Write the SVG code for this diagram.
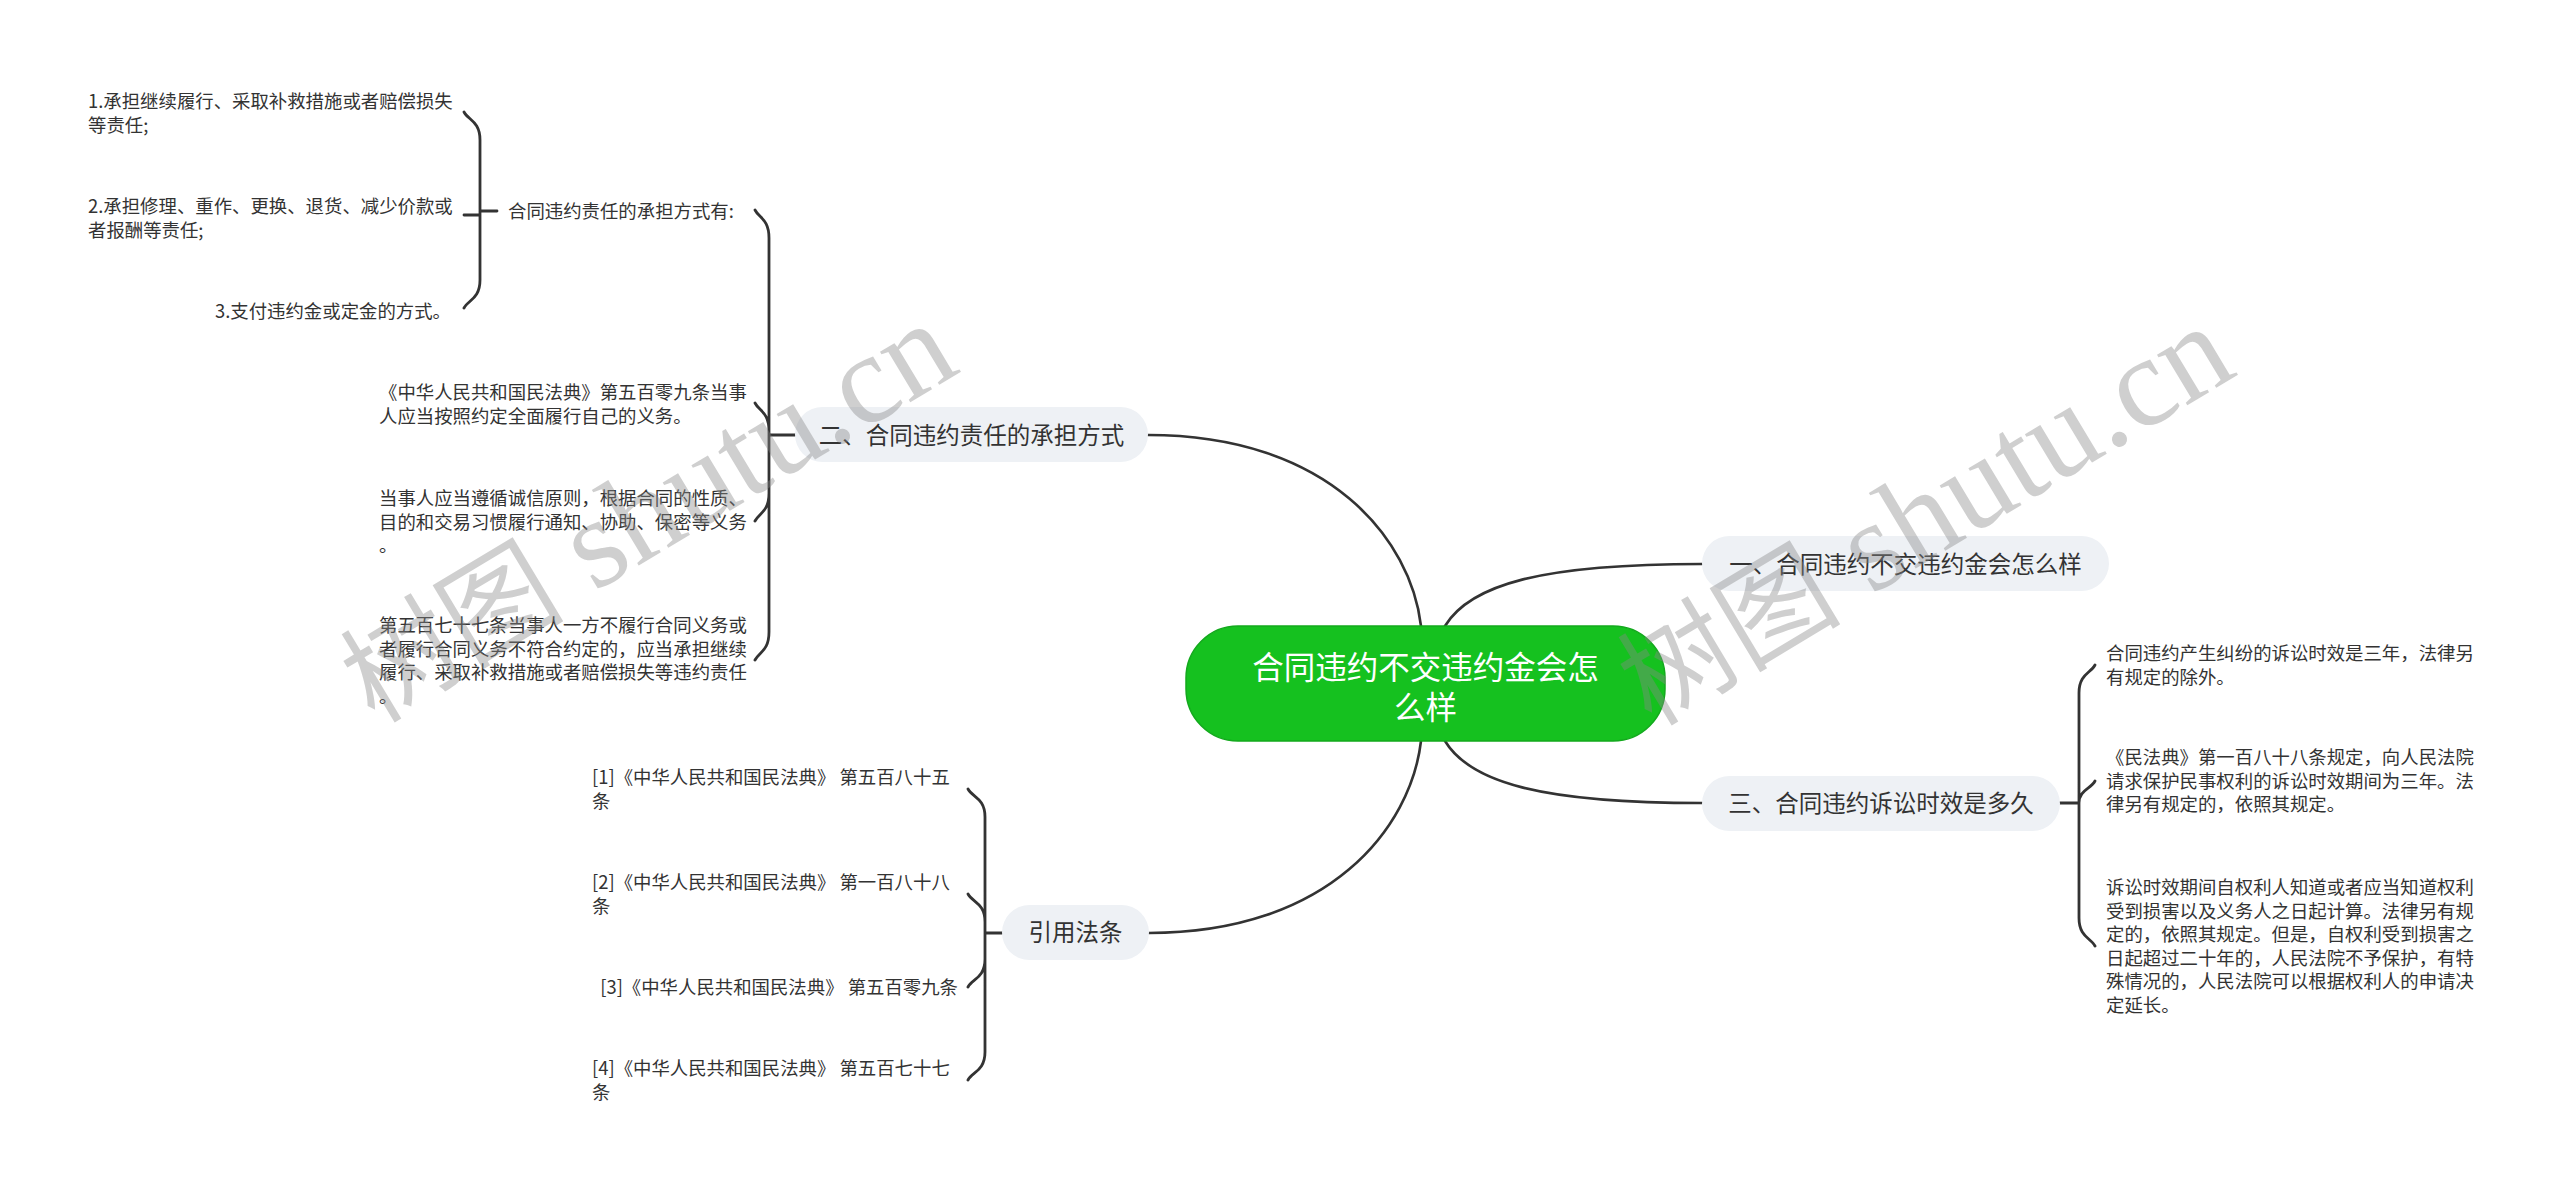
<svg xmlns="http://www.w3.org/2000/svg" width="2560" height="1189" viewBox="0 0 2560 1189">
<style>
.t{font-family:"Noto Sans CJK SC","Noto Sans",sans-serif;font-size:18.4px;fill:#333}
.b{font-family:"Noto Sans CJK SC","Noto Sans",sans-serif;font-size:23.5px;fill:#333;text-anchor:middle}
.r{font-family:"Noto Sans CJK SC","Noto Sans",sans-serif;font-size:31.5px;fill:#fff;text-anchor:middle}
.nb{fill:#eef1f5}
.c{fill:none;stroke:#333;stroke-width:2.6;stroke-linecap:round}
.k{fill:none;stroke:#333;stroke-width:2.8;stroke-linecap:round}
.wm{font-family:"Liberation Serif","Noto Sans CJK SC",serif;font-size:128px;fill:#888;opacity:0.4;text-anchor:middle}
.wc{font-size:112px}
</style>
<rect width="2560" height="1189" fill="#fff"/>
<g id="connectors">
<path class="c" d="M1421 626 C1411 540 1330 435 1148 435"/>
<path class="c" d="M1421 741 C1411 827 1330 933 1149 933"/>
<path class="c" d="M1445 626 C1470 585 1540 564 1702 564"/>
<path class="c" d="M1445 741 C1470 782 1540 803 1702 803"/>
<path class="k" d="M497 211 H480 M480 211 V140 C480 121 468 120 464 112 M480 211 V215 H464 M480 211 V280 C480 299 468 300 464 308"/>
<path class="k" d="M795 435 H769 M769 435 V238 C769 219 759 218 755 210 M769 435 V431 C769 412 759 411 755 403 M769 435 V493 C769 512 759 513 755 521 M769 435 V632 C769 651 759 652 755 660"/>
<path class="k" d="M2060 803 H2079 M2079 803 V693 C2079 674 2091 673 2095 665 M2079 803 C2079 790 2091 789 2095 781 M2079 803 V918 C2079 937 2091 938 2095 946"/>
<path class="k" d="M1002 933 H985 M985 933 V817 C985 798 972 797 968 789 M985 933 V922 C985 903 972 902 968 894 M985 933 V959 C985 978 972 979 968 987 M985 933 V1052 C985 1071 972 1072 968 1080"/>
</g>
<g id="root">
<rect x="1186" y="626" width="479" height="115" rx="52" fill="#15c11f" stroke="#13a91d" stroke-width="1.5"/>
<text class="r" x="1425.5" y="679">合同违约不交违约金会怎</text>
<text class="r" x="1425.5" y="719">么样</text>
</g>
<g id="n1">
<rect class="nb" x="1702" y="536" width="407" height="55" rx="27.5"/>
<text class="b" x="1905.5" y="572.5">一、合同违约不交违约金会怎么样</text>
</g>
<g id="n2">
<rect class="nb" x="795" y="407" width="353" height="55" rx="27.5"/>
<text class="b" x="971.5" y="443.5">二、合同违约责任的承担方式</text>
</g>
<g id="n3">
<rect class="nb" x="1702" y="776" width="358" height="55" rx="27.5"/>
<text class="b" x="1881" y="812">三、合同违约诉讼时效是多久</text>
</g>
<g id="n4">
<rect class="nb" x="1002" y="905" width="147" height="55" rx="27.5"/>
<text class="b" x="1075.5" y="941">引用法条</text>
</g>
<g id="a0"><text class="t" x="508" y="218">合同违约责任的承担方式有:</text></g>
<g id="a1"><text class="t" x="88" y="108">1.承担继续履行、采取补救措施或者赔偿损失</text><text class="t" x="88" y="131.5">等责任;</text></g>
<g id="a2"><text class="t" x="88" y="213">2.承担修理、重作、更换、退货、减少价款或</text><text class="t" x="88" y="236.5">者报酬等责任;</text></g>
<g id="a3"><text class="t" x="451" y="317.5" text-anchor="end">3.支付违约金或定金的方式。</text></g>
<g id="b1"><text class="t" x="379" y="399">《中华人民共和国民法典》第五百零九条当事</text><text class="t" x="379" y="422.5">人应当按照约定全面履行自己的义务。</text></g>
<g id="b2"><text class="t" x="379" y="505">当事人应当遵循诚信原则，根据合同的性质、</text><text class="t" x="379" y="528.5">目的和交易习惯履行通知、协助、保密等义务</text><text class="t" x="379" y="552">。</text></g>
<g id="b3"><text class="t" x="379" y="632">第五百七十七条当事人一方不履行合同义务或</text><text class="t" x="379" y="655.5">者履行合同义务不符合约定的，应当承担继续</text><text class="t" x="379" y="679">履行、采取补救措施或者赔偿损失等违约责任</text><text class="t" x="379" y="702.5">。</text></g>
<g id="c1"><text class="t" x="2106" y="660">合同违约产生纠纷的诉讼时效是三年，法律另</text><text class="t" x="2106" y="683.5">有规定的除外。</text></g>
<g id="c2"><text class="t" x="2106" y="764">《民法典》第一百八十八条规定，向人民法院</text><text class="t" x="2106" y="787.5">请求保护民事权利的诉讼时效期间为三年。法</text><text class="t" x="2106" y="811">律另有规定的，依照其规定。</text></g>
<g id="c3"><text class="t" x="2106" y="894">诉讼时效期间自权利人知道或者应当知道权利</text><text class="t" x="2106" y="917.5">受到损害以及义务人之日起计算。法律另有规</text><text class="t" x="2106" y="941">定的，依照其规定。但是，自权利受到损害之</text><text class="t" x="2106" y="964.5">日起超过二十年的，人民法院不予保护，有特</text><text class="t" x="2106" y="988">殊情况的，人民法院可以根据权利人的申请决</text><text class="t" x="2106" y="1011.5">定延长。</text></g>
<g id="d1"><text class="t" x="592" y="784">[1]《中华人民共和国民法典》 第五百八十五</text><text class="t" x="592" y="807.5">条</text></g>
<g id="d2"><text class="t" x="592" y="889">[2]《中华人民共和国民法典》 第一百八十八</text><text class="t" x="592" y="912.5">条</text></g>
<g id="d3"><text class="t" x="958" y="994" text-anchor="end">[3]《中华人民共和国民法典》 第五百零九条</text></g>
<g id="d4"><text class="t" x="592" y="1075">[4]《中华人民共和国民法典》 第五百七十七</text><text class="t" x="592" y="1098.5">条</text></g>
<g id="watermark">
<text class="wm" transform="translate(649,515) rotate(-31)" x="0" y="38"><tspan class="wc">树图</tspan> shutu.cn</text>
<text class="wm" transform="translate(1926,518) rotate(-31)" x="0" y="38"><tspan class="wc">树图</tspan> shutu.cn</text>
</g>
</svg>
